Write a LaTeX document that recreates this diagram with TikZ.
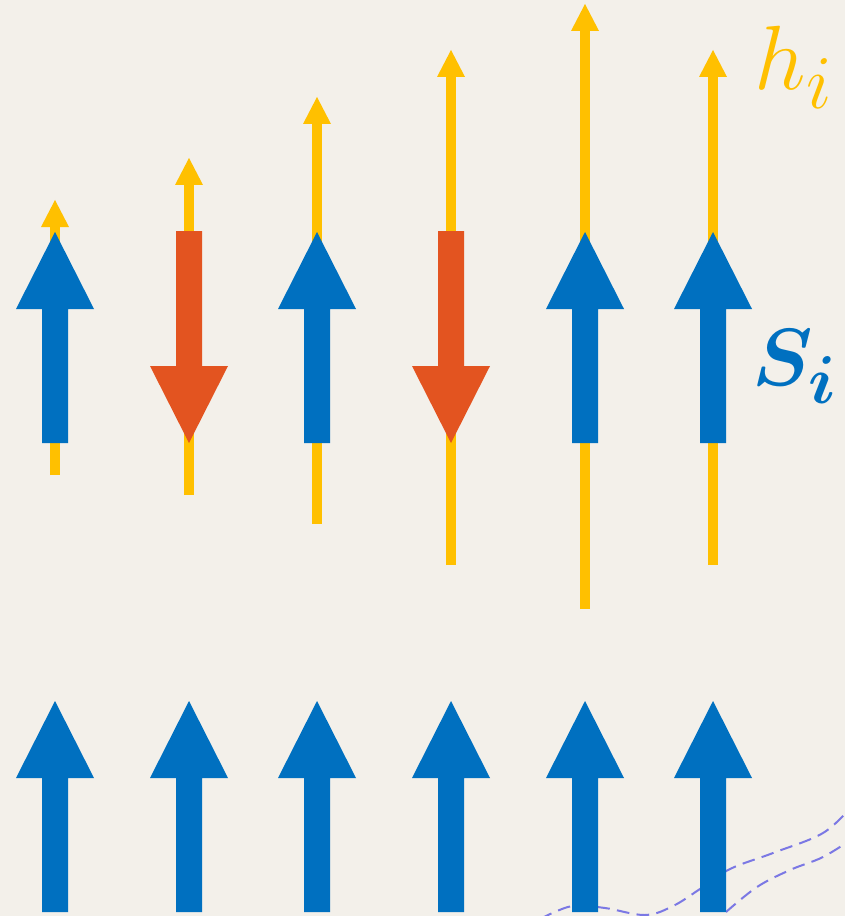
\documentclass[tikz,border=0pt]{standalone}
\usepackage{bm}
\usetikzlibrary{calc}

\definecolor{paper}{HTML}{F3F0EA}
\definecolor{fieldyellow}{HTML}{FFC000}
\definecolor{spinblue}{HTML}{0070C0}
\definecolor{spinred}{HTML}{E35420}
\definecolor{wavepurple}{HTML}{7B78E4}

\begin{document}
\begin{tikzpicture}[x=0.75pt, y=-0.75pt, line join=miter]
\def\shafthalf{13}
\def\headhalf{39}
\def\headlength{77}
\def\fieldhalf{14}
\def\fieldhead{27}

% Background and frame
\fill[paper] (0,0) rectangle (845,916);
\useasboundingbox (0,0) rectangle (845,916);

% Dashed curves, bottom right
\draw[wavepurple, line width=1.5pt, dash pattern=on 9.5pt off 5.5pt]
  plot[smooth, tension=0.6] coordinates {(540,919) (572,906) (605,908) (645,915) (673,906) (700,889) (730,869) (773,853) (823,833) (852,806)};
\draw[wavepurple, line width=1.5pt, dash pattern=on 9.5pt off 5.5pt]
  plot[smooth, tension=0.6] coordinates {(726,912) (757,887) (790,870) (823,857) (852,839)};

% Local fields h_i
\foreach \n/\x/\top/\bot in {1/55/200/475, 2/189/158/495, 3/317/97/524, 4/451/50/565, 5/585/4/609, 6/713/50/565} {
  \coordinate (h\n-tip) at (\x,\top);
  \coordinate (h\n-end) at (\x,\bot);
  \draw[fieldyellow, line width=7.5pt] (h\n-end) -- ($(h\n-tip)+(0,\fieldhead)$);
  \fill[fieldyellow] ($(h\n-tip)+(-\fieldhalf,\fieldhead)$) -- (h\n-tip) -- ($(h\n-tip)+(\fieldhalf,\fieldhead)$) -- cycle;
}

% Spins S_i, top row (disordered) and bottom row (aligned)
\foreach \n/\x/\tail/\tip/\col in {1/55/443/232/spinblue, 2/189/231/443/spinred, 3/317/443/232/spinblue,
    4/451/231/443/spinred, 5/585/443/232/spinblue, 6/713/443/232/spinblue,
    7/55/912/701/spinblue, 8/189/912/701/spinblue, 9/317/912/701/spinblue,
    10/451/912/701/spinblue, 11/585/912/701/spinblue, 12/713/912/701/spinblue} {
  \pgfmathsetmacro{\base}{\tip+\headlength*sign(\tail-\tip)}
  \coordinate (s\n-tail) at (\x,\tail);
  \coordinate (s\n-tip) at (\x,\tip);
  \fill[\col] ($(s\n-tail)+(-\shafthalf,0)$) -- (\x-\shafthalf,\base) -- (\x-\headhalf,\base)
    -- (s\n-tip) -- (\x+\headhalf,\base) -- (\x+\shafthalf,\base) -- ($(s\n-tail)+(\shafthalf,0)$) -- cycle;
}

% Labels
\node[anchor=base west, inner sep=0pt, text=fieldyellow, scale=2.75, font=\Huge] (hlabel) at (754,90) {$h_i$};
\node[anchor=base west, inner sep=0pt, text=spinblue, scale=2.45, font=\Huge] (slabel) at (752,385) {$\bm{S_i}$};
\end{tikzpicture}
\end{document}
